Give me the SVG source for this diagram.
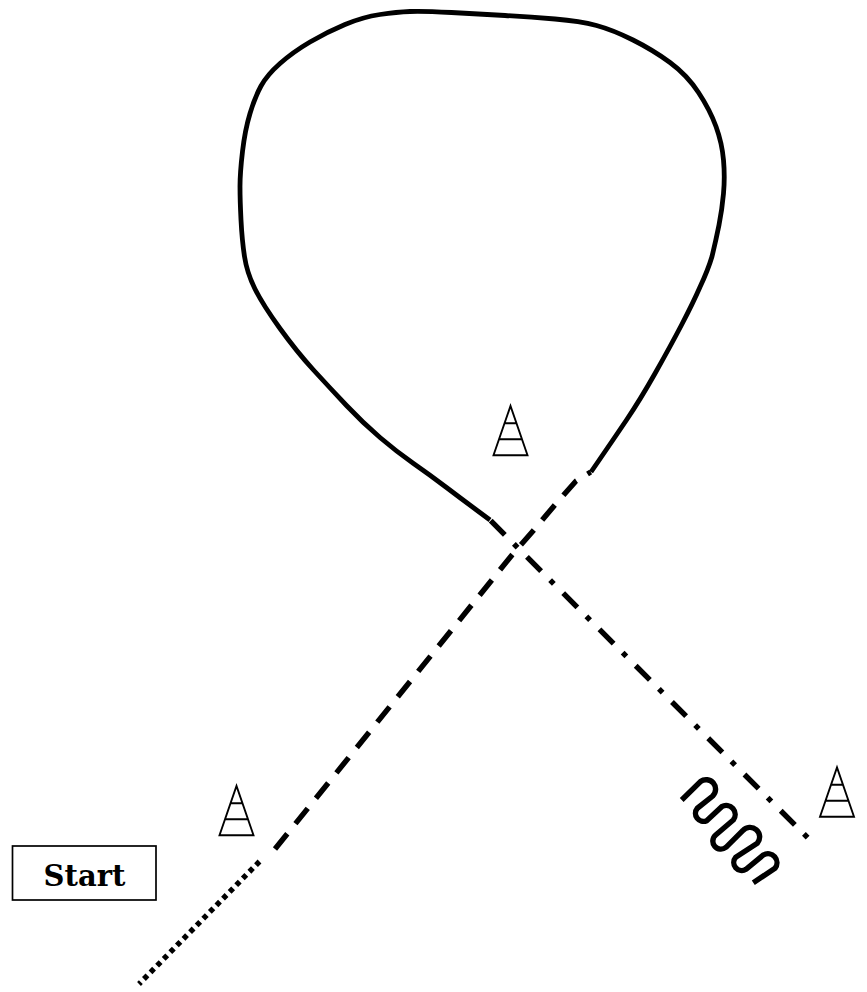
<svg xmlns="http://www.w3.org/2000/svg" width="867" height="992" viewBox="0 0 867 992">
<style>
.t{fill:none;stroke:#000;stroke-width:1.9}
.c{fill:none;stroke:#000;stroke-width:4.8}
.d{stroke-width:5.4}
text{font-family:"DejaVu Serif",serif;font-weight:bold;font-size:29px;text-anchor:middle}
</style>
<defs><g id="tower"><path class="t" d="M-17,49.3 L0,0 L17,49.3 Z M-5.5,17.3 H5.5 M-11,33.3 H11"/></g></defs>
<rect width="867" height="992" fill="#fff"/>
<g id="connectors">
<path class="c" d="M591,472 Q613,440 626.5,420 Q640,400 655,373.5 Q670,347 681.5,325 Q693,303 700,287 Q708,270 712,256.5 Q716,240 719,225 Q722,210 723.5,193.5 Q725,177 723.5,160 Q722,143 716,126.5 Q710,110 698.5,92.5 Q687,75 670,62.5 Q653,50 633,40 Q613,30 596.5,25.5 Q580,21 555,19 Q530,17 505,15.5 Q480,14 451.5,12.5 Q423,11 410,11.5 Q397,12 380,14.5 Q363,17 345,24.5 Q327,32 310,42 Q293,52 280,63.5 Q267,75 261,86 Q255,97 250,113.5 Q245,130 242.5,151.5 Q240,173 240,186.5 Q240,200 241,220 Q242,240 244.5,256.5 Q247,273 255,289 Q263,305 280,328.5 Q297,352 313.5,370 Q330,388 346.5,405.5 Q363,423 380,437.5 Q397,452 413.5,463.5 Q430,475 446.5,487.5 Q463,500 476.5,510 L490,520"/>
<path class="c d" d="M807.6,837.6 L490,520" stroke-dasharray="5.2 12.8 20 13.27"/>
<path class="c d" d="M275,849 L512,555 L533,531 L554,506 L576,481 L590.7,472" stroke-dasharray="19.6 13"/>
<path class="c d" d="M259.5,861.5 L139,984" stroke-dasharray="5 4.4"/>
<path class="c d" d="M681.7,800 L700.5,781.5 A9.5,9.5 0 0 1 712.7,796 L697.3,808.3 A8,8 0 0 0 706.7,820.7 L721.7,806.7 A9,9 0 0 1 733.3,820 L715.7,835 A8,8 0 0 0 726,847.3 L742.7,830.7 A9.6,9.6 0 0 1 757.3,843.3 L735.7,857.3 A8,8 0 0 0 746,869.3 L763.3,855 A9,9 0 0 1 775,868.3 L753.3,882.7"/>
</g>
<g id="tower1"><use href="#tower" x="510.5" y="406"/></g>
<g id="tower2"><use href="#tower" x="236.5" y="786"/></g>
<g id="tower3"><use href="#tower" x="837" y="767.4"/></g>
<g id="start"><rect x="12.5" y="846" width="143.5" height="54" fill="#fff" stroke="#000" stroke-width="1.7"/><text x="84.5" y="886">Start</text></g>
</svg>
